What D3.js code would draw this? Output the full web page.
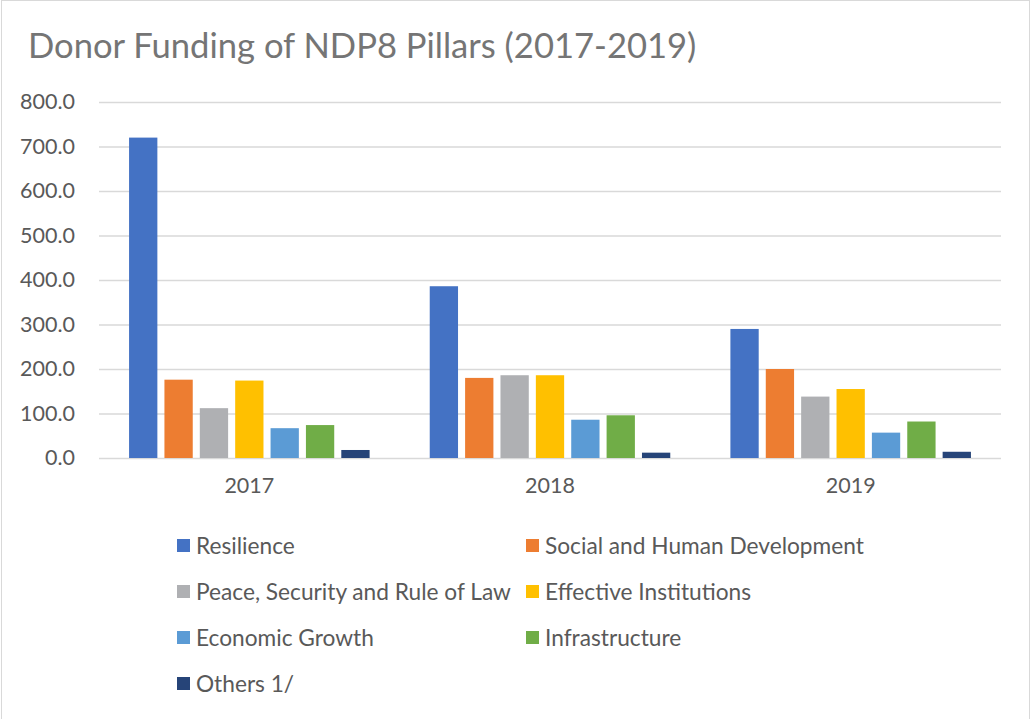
<!DOCTYPE html>
<html>
<head>
<meta charset="utf-8">
<script src="https://cdn.jsdelivr.net/npm/d3@7/dist/d3.min.js"></script>
<style>
  html, body { margin: 0; padding: 0; background: #fff; }
  svg { display: block; }
  text { font-family: Lato, "Open Sans", sans-serif; }
</style>
</head>
<body>
<svg id="chart" width="1031" height="719"></svg>
<script>
// Years on the category axis
const years = ["2017", "2018", "2019"];

// NDP8 pillars (one series each)
const pillars = [
  "Resilience",
  "Social and Human Development",
  "Peace, Security and Rule of Law",
  "Effective Institutions",
  "Economic Growth",
  "Infrastructure",
  "Others 1/"
];

// Funding per pillar, one value per year
const resilience   = [720.0, 386.0, 290.0];
const socialHuman  = [176.0, 180.0, 200.0];
const peaceSec     = [112.0, 186.0, 138.0];
const effectiveIns = [174.0, 186.0, 155.0];
const econGrowth   = [67.0, 86.0, 57.0];
const infrastruct  = [74.0, 96.0, 82.0];
const others       = [18.0, 12.0, 14.0];

const seriesValues = [resilience, socialHuman, peaceSec, effectiveIns, econGrowth, infrastruct, others];

// Y axis ticks
const yTicks = [0, 100, 200, 300, 400, 500, 600, 700, 800];

const colors = ["#4472C4", "#ED7D31", "#AFB0B3", "#FFC000", "#5B9BD5", "#70AD47", "#264478"];

const svg = d3.select("#chart");
const W = 1031, H = 719;

// Chart area outline
svg.append("rect")
  .attr("x", 1.5).attr("y", 0.5)
  .attr("width", W - 3).attr("height", H + 5)
  .attr("fill", "#fff").attr("stroke", "#d9d9d9").attr("stroke-width", 1);

// Title
svg.append("text")
  .attr("x", 28).attr("y", 58)
  .attr("font-size", 34.6)
  .attr("fill", "#757575")
  .text("Donor Funding of NDP8 Pillars (2017-2019)");

const plot = { left: 99, right: 1001, top: 102, bottom: 458 };

const y = d3.scaleLinear().domain([0, 800]).range([plot.bottom, plot.top]);

const x0 = d3.scaleBand().domain(years)
  .range([plot.left, plot.right])
  .paddingInner(0.2).paddingOuter(0.1);

const x1 = d3.scaleBand().domain(pillars)
  .range([0, x0.bandwidth()])
  .paddingInner(0.2).paddingOuter(0);

const color = d3.scaleOrdinal().domain(pillars).range(colors);

// Horizontal gridlines and value labels
const yAxis = d3.axisLeft(y)
  .tickValues(yTicks)
  .tickSize(-(plot.right - plot.left))
  .tickPadding(24)
  .tickFormat(d3.format(".1f"));

const gy = svg.append("g")
  .attr("transform", `translate(${plot.left},0)`)
  .call(yAxis);
gy.select(".domain").remove();
gy.selectAll(".tick line").attr("stroke", "#d9d9d9").attr("stroke-width", 1.5);
gy.selectAll(".tick text")
  .attr("fill", "#595959")
  .attr("font-size", 21.5)
  .attr("font-family", "Lato, sans-serif");

// Bars
const rows = years.map((yr, i) => ({
  year: yr,
  values: pillars.map((p, j) => ({ pillar: p, value: seriesValues[j][i] }))
}));

const groups = svg.append("g").selectAll("g")
  .data(rows).join("g")
  .attr("transform", d => `translate(${x0(d.year)},0)`);

groups.selectAll("rect")
  .data(d => d.values).join("rect")
  .attr("x", d => x1(d.pillar))
  .attr("y", d => y(d.value))
  .attr("width", x1.bandwidth())
  .attr("height", d => y(0) - y(d.value))
  .attr("fill", d => color(d.pillar));

// Category axis labels
const xAxis = d3.axisBottom(x0).tickSize(0).tickPadding(20);
const gx = svg.append("g")
  .attr("transform", `translate(0,${plot.bottom})`)
  .call(xAxis);
gx.select(".domain").remove();
gx.selectAll(".tick text")
  .attr("fill", "#595959")
  .attr("font-size", 21.5)
  .attr("font-family", "Lato, sans-serif");

// Legend: two columns, four rows
const legend = svg.append("g");
const colX = [177, 526];
const rowY = [546, 592, 638, 684];
const items = legend.selectAll("g")
  .data(pillars).join("g")
  .attr("transform", (d, i) => `translate(${colX[i % 2]},${rowY[Math.floor(i / 2)]})`);

items.append("rect")
  .attr("x", 0).attr("y", -7)
  .attr("width", 13).attr("height", 13)
  .attr("fill", d => color(d));

items.append("text")
  .attr("x", 19).attr("y", 0)
  .attr("dy", "0.35em")
  .attr("font-size", 22.7)
  .attr("fill", "#595959")
  .text(d => d);
</script>
</body>
</html>
